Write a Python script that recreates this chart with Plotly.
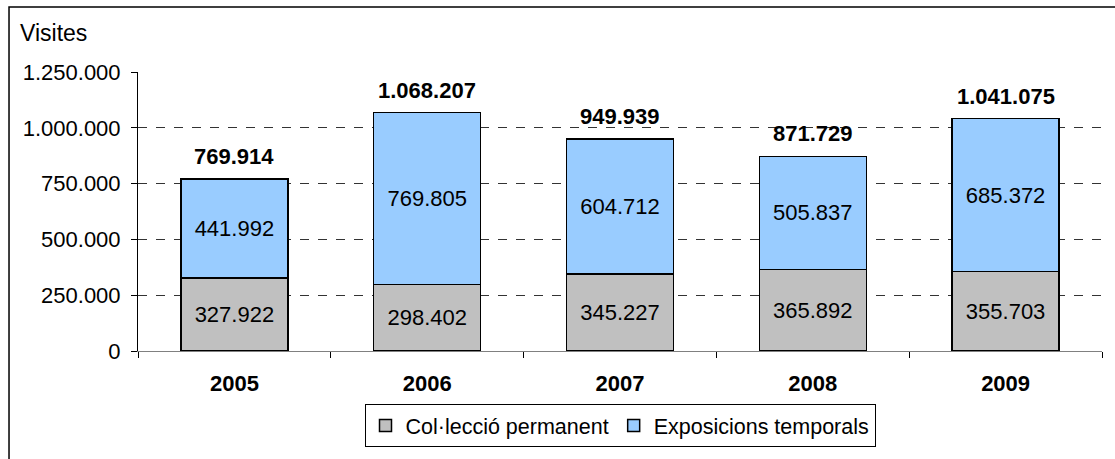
import plotly.graph_objects as go

years = ["2005", "2006", "2007", "2008", "2009"]
permanent = [327922, 298402, 345227, 365892, 355703]
temporals = [441992, 769805, 604712, 505837, 685372]
series_names = ["Col·lecció permanent", "Exposicions temporals"]
y_ticks = [0, 250000, 500000, 750000, 1000000, 1250000]
y_title = "Visites"

totals = [p + t for p, t in zip(permanent, temporals)]

def fmt(v):
    return f"{v:,}".replace(",", ".")

FONT = "Liberation Sans, Arial, sans-serif"
FS = 22

fig = go.Figure()
fig.add_bar(x=years, y=permanent, name=series_names[0],
            marker=dict(color="#C0C0C0", line=dict(color="black", width=1.5)),
            text=[fmt(v) for v in permanent], textposition="inside",
            insidetextanchor="middle", textangle=0, constraintext="none",
            textfont=dict(family=FONT, size=FS, color="black"))
fig.add_bar(x=years, y=temporals, name=series_names[1],
            marker=dict(color="#99CCFF", line=dict(color="black", width=1.5)),
            text=[fmt(v) for v in temporals], textposition="inside",
            insidetextanchor="middle", textangle=0, constraintext="none",
            textfont=dict(family=FONT, size=FS, color="black"))

for i, tot in enumerate(totals):
    fig.add_annotation(x=i, y=tot, text="<b>" + fmt(tot) + "</b>",
                       showarrow=False, yanchor="bottom", yshift=8,
                       font=dict(family=FONT, size=FS, color="black"))

fig.add_annotation(xref="paper", yref="paper", x=-0.1245, y=1.14,
                   xanchor="left", yanchor="middle", text=y_title,
                   showarrow=False, font=dict(family=FONT, size=23, color="black"))

fig.add_shape(type="rect", xref="paper", yref="paper",
              x0=-0.1338, x1=1.05, y0=-0.45, y1=1.233,
              line=dict(color="black", width=1.5), fillcolor="rgba(0,0,0,0)",
              layer="above")

fig.update_layout(
    width=1115, height=459,
    margin=dict(l=138, r=13, t=72, b=108),
    paper_bgcolor="white", plot_bgcolor="white",
    barmode="stack", bargap=0.445,
    separators=",.",
    font=dict(family=FONT, size=FS, color="black"),
    showlegend=True,
    legend=dict(orientation="h", x=0.5, xanchor="center", y=-0.19, yanchor="top",
                bordercolor="black", borderwidth=1, font=dict(family=FONT, size=21.5),
                traceorder="normal"),
    xaxis=dict(type="category", range=[-0.5, 4.5], tickson="boundaries",
               ticks="outside", ticklen=6,
               tickcolor="black", showline=True, linecolor="#808080", linewidth=1,
               showgrid=False, tickfont=dict(family=FONT, size=FS, color="black"),
               tickprefix="<b>", ticksuffix="</b>", ticklabelstandoff=13,
               tickangle=0),
    yaxis=dict(range=[0, 1250000], tickvals=y_ticks, tickformat=",d",
               ticks="outside", ticklen=6, tickcolor="black",
               showline=True, linecolor="black", linewidth=1,
               showgrid=True, gridcolor="#333333", griddash="dash", gridwidth=1,
               zeroline=True, zerolinecolor="#808080", zerolinewidth=1,
               ticklabelstandoff=6,
               tickfont=dict(family=FONT, size=FS, color="black")),
)

fig.write_html("out.html", config={"displayModeBar": False},
               post_script="document.body.style.margin='0';")
